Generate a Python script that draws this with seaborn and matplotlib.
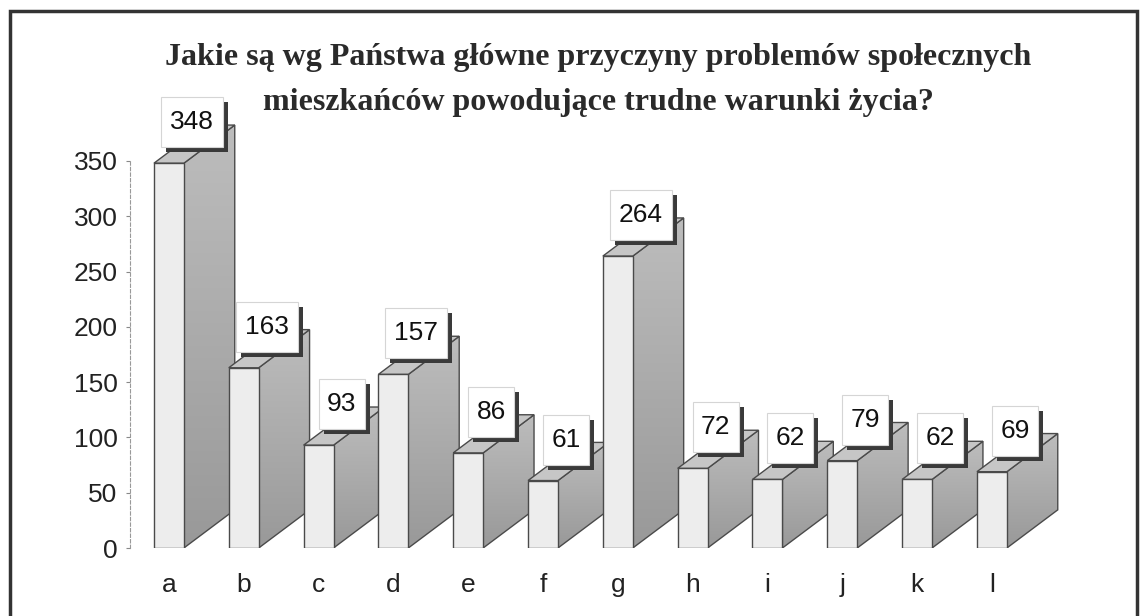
import matplotlib
matplotlib.use("Agg")
import numpy as np
import matplotlib.pyplot as plt
import matplotlib.patches as mpatches
import matplotlib.transforms as mtransforms
import seaborn as sns

categories = ["a", "b", "c", "d", "e", "f", "g", "h", "i", "j", "k", "l"]
values = [348, 163, 93, 157, 86, 61, 264, 72, 62, 79, 62, 69]
y_ticks = [0, 50, 100, 150, 200, 250, 300, 350]
title_lines = ["Jakie są wg Państwa główne przyczyny problemów społecznych",
               "mieszkańców powodujące trudne warunki życia?"]

sns.set_style("white")
plt.rcParams["font.family"] = ["Liberation Sans", "DejaVu Sans"]

W, H = 1145, 616
YMAX = 400
fig = plt.figure(figsize=(W / 100, H / 100), dpi=100)
# 0 sits at y=548 px, 350 at y=161 px
px_per_unit = (548 - 161) / 350
ax = fig.add_axes([130 / W, 1 - 548 / H, (1063 - 130) / W, YMAX * px_per_unit / H])

sns.barplot(x=categories, y=values, width=0.4, color="#ededed",
            edgecolor="#4a4a4a", linewidth=1.0, saturation=1, ax=ax)

# vertical gray gradient for the side faces
grad = np.linspace(0.74, 0.60, 64)[:, None]
grad_rgb = np.dstack([grad, grad, grad])

# fake 3d depth: side + top faces behind each front face
DX, DY = 0.68, 34.5
for i, p in enumerate(ax.patches[:len(values)]):
    x0, w, h = p.get_x(), p.get_width(), p.get_height()
    z = 2 + 3 * i
    side = mpatches.Polygon([(x0 + w, 0), (x0 + w + DX, DY), (x0 + w + DX, h + DY), (x0 + w, h)],
                            closed=True, facecolor="none", edgecolor="#4a4a4a",
                            linewidth=1.0, zorder=z + 0.1)
    ax.add_patch(side)
    im = ax.imshow(grad_rgb, extent=(x0 + w, x0 + w + DX, 0, h + DY), aspect="auto",
                   origin="upper", zorder=z, interpolation="bilinear")
    im.set_clip_path(side)
    top = mpatches.Polygon([(x0, h), (x0 + w, h), (x0 + w + DX, h + DY), (x0 + DX, h + DY)],
                           closed=True, facecolor="#c6c6c6", edgecolor="#4a4a4a",
                           linewidth=1.0, zorder=z + 0.2)
    ax.add_patch(top)
    p.set_zorder(z + 1)

    # value label: white box with dark drop shadow, sized in pixels
    cx = x0 + w / 2
    bw = 62 if values[i] >= 100 else 46
    bh = 50
    tr = mtransforms.Affine2D() + mtransforms.ScaledTranslation(cx, h, ax.transData)
    shadow = mpatches.Rectangle((23 - bw / 2 + 5, 41 - bh / 2 - 5), bw, bh, transform=tr,
                                facecolor="#3a3a3a", edgecolor="none", zorder=100, clip_on=False)
    box = mpatches.Rectangle((23 - bw / 2, 41 - bh / 2), bw, bh, transform=tr,
                             facecolor="white", edgecolor="#d5d5d5", linewidth=0.8,
                             zorder=101, clip_on=False)
    ax.add_artist(shadow)
    ax.add_artist(box)
    ax.annotate(str(values[i]), xy=(cx, h), xytext=(23, 41), textcoords="offset pixels",
                ha="center", va="center", fontsize=19, color="#111111",
                zorder=102, annotation_clip=False)

ax.set_xlim(-0.52, 11.95)
ax.set_ylim(0, YMAX)

ax.set_yticks(y_ticks)
ax.set_yticklabels([str(t) for t in y_ticks], fontsize=19, color="#222222")
ax.tick_params(axis="x", labelsize=19, colors="#222222", length=0, pad=18)
ax.tick_params(axis="y", length=3, width=0.8, color="#888888", pad=6, left=True)
ax.set_xlabel("")
ax.set_ylabel("")
for s in ["top", "right", "bottom"]:
    ax.spines[s].set_visible(False)
ax.spines["left"].set_bounds(0, 350)
ax.spines["left"].set_color("#999999")
ax.spines["left"].set_linestyle((0, (3, 2)))
ax.spines["left"].set_linewidth(0.8)

for line, base_y in zip(title_lines, [65, 110]):
    fig.text(598 / W, 1 - base_y / H, line, ha="center", va="baseline", fontsize=23,
             fontweight="bold", family=["Liberation Serif", "DejaVu Serif"],
             color="#2a2a2a")

# outer frame
frame = mpatches.Rectangle((10 / W, -0.02), (1137 - 10) / W, 1 - 11 / H + 0.02,
                           transform=fig.transFigure, fill=False,
                           edgecolor="#333333", linewidth=2.5)
fig.patches.append(frame)

fig.savefig("out.png", dpi=100)
